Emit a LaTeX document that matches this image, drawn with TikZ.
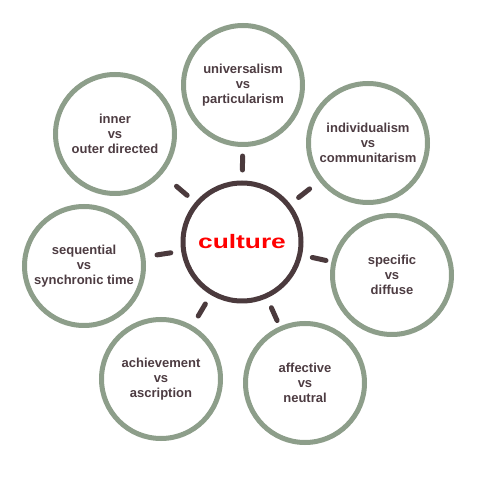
\documentclass[tikz,border=0pt]{standalone}
\usepackage{fontspec}
\setmainfont{Liberation Sans}
\newfontfamily\widefont[FakeStretch=1.35]{Liberation Sans}
\usetikzlibrary{shapes,calc}
\definecolor{ringgreen}{HTML}{8D9E8A}
\definecolor{hubbrown}{HTML}{4B3A3D}
\definecolor{labelbrown}{HTML}{4D3C42}

\begin{document}
\begin{tikzpicture}[x=1pt,y=1pt,
  every circle node/.append style={line width=5pt}]
  \tikzstyle{aspect} = [circle,draw=ringgreen,minimum size=119pt,align=center,font=\bfseries\fontsize{13}{14.7}\selectfont,text=labelbrown]
  \tikzstyle{hub} = [circle,draw=hubbrown,minimum size=118pt,font=\widefont\bfseries\fontsize{19.5}{22}\selectfont,text=red]
  \tikzstyle{spoke} = [draw=hubbrown,line width=5pt,line cap=round]
  \useasboundingbox (0,0) rectangle (480,480);
  \node (c_0) [hub] at (242,238) {culture};
  \node (c_1) [aspect] at (243,395) {universalism\\vs\\particularism};
  \node (c_2) [aspect] at (368,337) {individualism\\vs\\communitarism};
  \node (c_3) [aspect] at (392,205) {specific\\vs\\diffuse};
  \node (c_4) [aspect] at (305,97) {affective\\vs\\neutral};
  \node (c_5) [aspect] at (161,101) {achievement\\vs\\ascription};
  \node (c_6) [aspect] at (84,214) {sequential\\vs\\synchronic time};
  \node (c_7) [aspect] at (115,346) {inner\\vs\\outer directed};
  % short spokes between the hub and each ring
  \draw[spoke] ($(c_0)!72pt!(c_1)$) -- ($(c_0)!86pt!(c_1)$);
  \draw[spoke] ($(c_0)!72pt!(c_2)$) -- ($(c_0)!86pt!(c_2)$);
  \draw[spoke] ($(c_0)!72pt!(c_3)$) -- ($(c_0)!86pt!(c_3)$);
  \draw[spoke] ($(c_0)!72pt!(c_4)$) -- ($(c_0)!86pt!(c_4)$);
  \draw[spoke] ($(c_0)!72pt!(c_5)$) -- ($(c_0)!86pt!(c_5)$);
  \draw[spoke] ($(c_0)!72pt!(c_6)$) -- ($(c_0)!86pt!(c_6)$);
  \draw[spoke] ($(c_0)!72pt!(c_7)$) -- ($(c_0)!86pt!(c_7)$);
\end{tikzpicture}
\end{document}
